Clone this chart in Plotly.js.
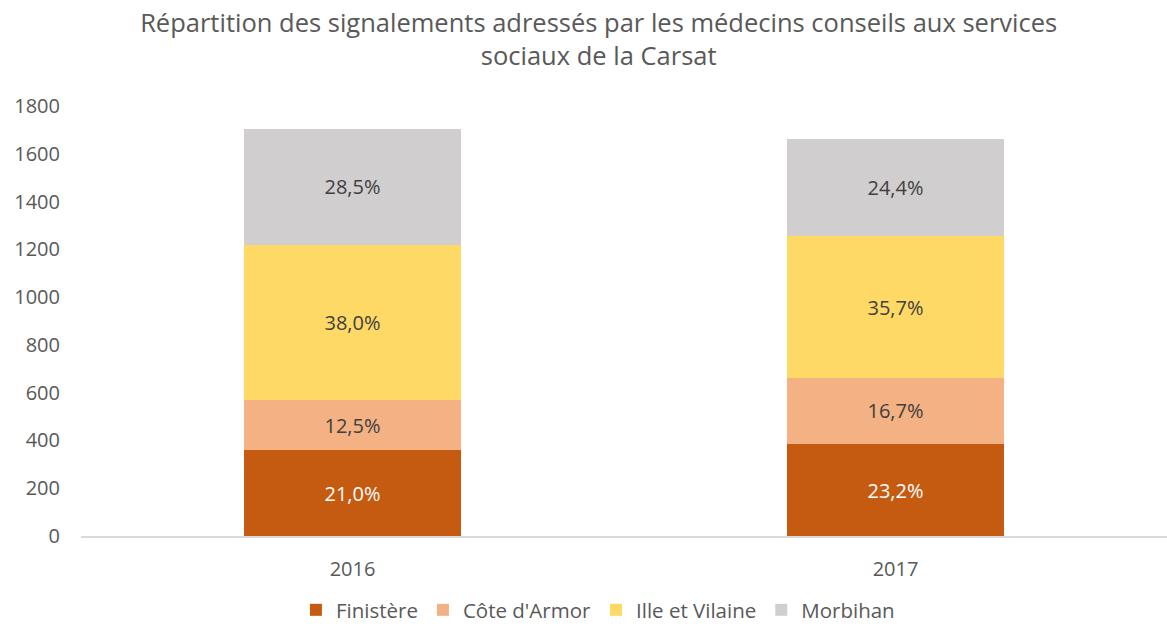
<!DOCTYPE html>
<html>
<head>
<meta charset="utf-8">
<script src="https://cdn.plot.ly/plotly-3.0.1.min.js"></script>
<style>html,body{margin:0;padding:0;background:#fff;}#chart{width:1167px;height:630px;}</style>
</head>
<body>
<div id="chart"></div>
<script>
const years = ["2016", "2017"];
const seriesNames = ["Finistère", "Côte d'Armor", "Ille et Vilaine", "Morbihan"];
const finistere = [358, 385];
const coteArmor = [213, 277];
const illeVilaine = [648, 593];
const morbihan = [486, 405];
const yTicks = [0, 200, 400, 600, 800, 1000, 1200, 1400, 1600, 1800];

const allSeries = [finistere, coteArmor, illeVilaine, morbihan];
const colors = ["#C55A11", "#F4B183", "#FFD966", "#D0CECE"];
const textColors = ["#FFFFFF", "#404040", "#404040", "#404040"];
const totals = years.map((_, i) => allSeries.reduce((s, a) => s + a[i], 0));
const fmt = v => v.toFixed(1).replace(".", ",") + "%";

const FONT = "Open Sans, sans-serif";
const traces = allSeries.map((vals, k) => ({
  type: "bar",
  name: seriesNames[k],
  x: years,
  y: vals,
  marker: {color: colors[k], line: {width: 0}},
  text: vals.map((v, i) => fmt(100 * v / totals[i])),
  textposition: "inside",
  insidetextanchor: "middle",
  textangle: 0,
  textfont: {family: FONT, size: 20, color: textColors[k]},
  constraintext: "none",
  hoverinfo: "skip"
}));

const layout = {
  width: 1167, height: 630,
  margin: {l: 81, r: 0, t: 106, b: 94, autoexpand: false},
  paper_bgcolor: "#fff", plot_bgcolor: "#fff",
  barmode: "stack",
  bargap: 0.6,
  title: {
    text: "Répartition des signalements adressés par les médecins conseils aux services<br>sociaux de la Carsat",
    font: {family: FONT, size: 25.5, color: "#595959"},
    x: 0.513, xanchor: "center", y: 0.95, yanchor: "top"
  },
  xaxis: {
    type: "category",
    showgrid: false, zeroline: false,
    showline: true, linecolor: "#D9D9D9", linewidth: 1.5,
    ticks: "", tickfont: {family: FONT, size: 20, color: "#595959"},
    ticklabelstandoff: 14
  },
  yaxis: {
    range: [0, 1800], tickvals: yTicks,
    showgrid: false, zeroline: false, showline: false,
    ticks: "", tickfont: {family: FONT, size: 20, color: "#595959"},
    ticklabelstandoff: 20
  },
  legend: {
    orientation: "h", x: 0.476, xanchor: "center",
    yref: "container", y: 0, yanchor: "bottom",
    font: {family: FONT, size: 20.5, color: "#595959"},
    traceorder: "normal", itemwidth: 30
  },
  showlegend: true
};

Plotly.newPlot("chart", traces, layout, {displayModeBar: false, staticPlot: true});
</script>
</body>
</html>
